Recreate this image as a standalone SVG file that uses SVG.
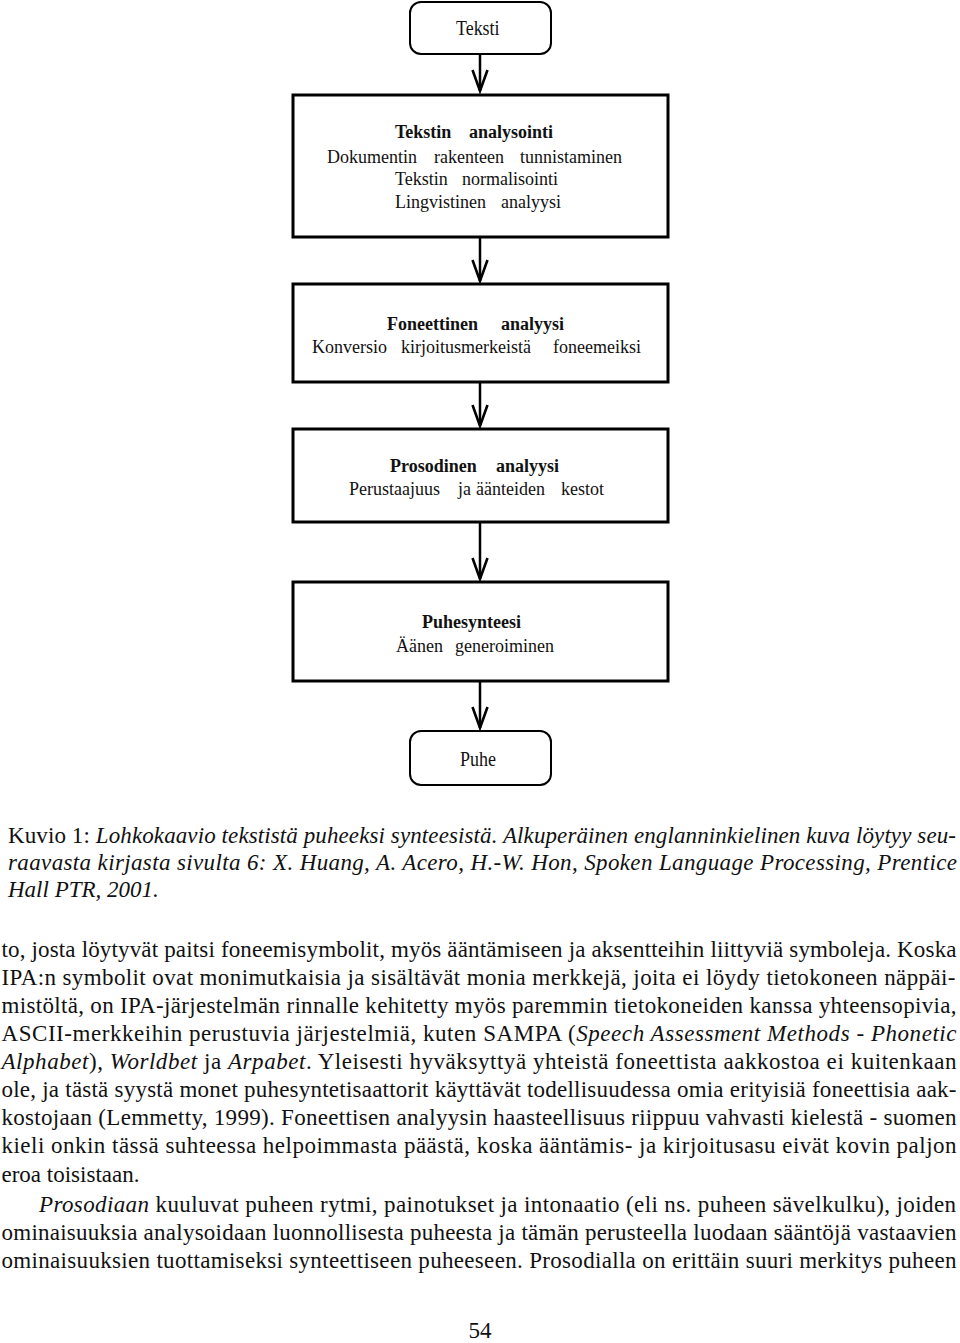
<svg xmlns="http://www.w3.org/2000/svg" width="960" height="1343" viewBox="0 0 960 1343">
<style>
.box{fill:#fff;stroke:#000;stroke-width:3}
.term{fill:#fff;stroke:#000;stroke-width:2}
.conn{stroke:#000;stroke-width:2.5;fill:none}
.lbl{font-family:"Liberation Serif","Times New Roman",serif;font-size:18px;fill:#111}
.b{font-weight:bold}
.tl{font-family:"Liberation Serif","Times New Roman",serif;font-size:20px;fill:#111}
.body{font-family:"Liberation Serif","Times New Roman",serif;font-size:23px;fill:#111}
.i{font-style:italic}
</style>
<defs>
<marker id="arr" markerUnits="userSpaceOnUse" viewBox="-26 -10 28 20" markerWidth="28" markerHeight="20" refX="0" refY="0" orient="auto" overflow="visible">
<path d="M-21,-7.5 L0,0 L-21,7.5" fill="none" stroke="#000" stroke-width="2.6" stroke-linejoin="miter"/>
</marker>
</defs>
<rect width="960" height="1343" fill="#fff"/>
<g id="connectors">
<line class="conn" x1="480" y1="54" x2="480" y2="91" marker-end="url(#arr)"/>
<line class="conn" x1="480" y1="237" x2="480" y2="281" marker-end="url(#arr)"/>
<line class="conn" x1="480" y1="382" x2="480" y2="426" marker-end="url(#arr)"/>
<line class="conn" x1="480" y1="522" x2="480" y2="579" marker-end="url(#arr)"/>
<line class="conn" x1="480" y1="681" x2="480" y2="728" marker-end="url(#arr)"/>
</g>
<g id="node-teksti">
<rect class="term" x="410" y="2" width="141" height="52" rx="11"/>
<text class="tl" x="456" y="35" textLength="43.5" lengthAdjust="spacingAndGlyphs">Teksti</text>
</g>
<g id="node-tekstin-analysointi">
<rect class="box" x="293" y="95" width="375" height="142"/>
<text class="lbl b" y="138"><tspan x="395">Tekstin</tspan><tspan x="469">analysointi</tspan></text>
<text class="lbl" y="163"><tspan x="327">Dokumentin</tspan><tspan x="434">rakenteen</tspan><tspan x="520">tunnistaminen</tspan></text>
<text class="lbl" y="185"><tspan x="395">Tekstin</tspan><tspan x="462">normalisointi</tspan></text>
<text class="lbl" y="208"><tspan x="395">Lingvistinen</tspan><tspan x="501">analyysi</tspan></text>
</g>
<g id="node-foneettinen">
<rect class="box" x="293" y="284" width="375" height="98"/>
<text class="lbl b" y="330"><tspan x="387">Foneettinen</tspan><tspan x="501">analyysi</tspan></text>
<text class="lbl" y="353"><tspan x="312">Konversio</tspan><tspan x="401">kirjoitusmerkeistä</tspan><tspan x="553">foneemeiksi</tspan></text>
</g>
<g id="node-prosodinen">
<rect class="box" x="293" y="429" width="375" height="93"/>
<text class="lbl b" y="472"><tspan x="390">Prosodinen</tspan><tspan x="496">analyysi</tspan></text>
<text class="lbl" y="495"><tspan x="349">Perustaajuus</tspan><tspan x="458">ja</tspan><tspan x="476">äänteiden</tspan><tspan x="561">kestot</tspan></text>
</g>
<g id="node-puhesynteesi">
<rect class="box" x="293" y="582" width="375" height="99"/>
<text class="lbl b" x="422" y="628">Puhesynteesi</text>
<text class="lbl" y="652"><tspan x="396">Äänen</tspan><tspan x="455">generoiminen</tspan></text>
</g>
<g id="node-puhe">
<rect class="term" x="410" y="731" width="141" height="54" rx="11"/>
<text class="tl" x="460" y="766" textLength="36" lengthAdjust="spacingAndGlyphs">Puhe</text>
</g>
<g id="caption">
<text class="body" x="8" y="843" textLength="948" lengthAdjust="spacing">Kuvio 1: <tspan class="i">Lohkokaavio tekstistä puheeksi synteesistä. Alkuperäinen englanninkielinen kuva löytyy seu-</tspan></text>
<text class="body i" x="8" y="870" textLength="949" lengthAdjust="spacing">raavasta kirjasta sivulta 6: X. Huang, A. Acero, H.-W. Hon, Spoken Language Processing, Prentice</text>
<text class="body i" x="8" y="897">Hall PTR, 2001.</text>
</g>
<g id="body-text">
<text class="body" x="1.5" y="957" textLength="955" lengthAdjust="spacing">to, josta löytyvät paitsi foneemisymbolit, myös ääntämiseen ja aksentteihin liittyviä symboleja. Koska</text>
<text class="body" x="1.5" y="985" textLength="954" lengthAdjust="spacing">IPA:n symbolit ovat monimutkaisia ja sisältävät monia merkkejä, joita ei löydy tietokoneen näppäi-</text>
<text class="body" x="1.5" y="1013" textLength="955" lengthAdjust="spacing">mistöltä, on IPA-järjestelmän rinnalle kehitetty myös paremmin tietokoneiden kanssa yhteensopivia,</text>
<text class="body" x="1.5" y="1041" textLength="955" lengthAdjust="spacing">ASCII-merkkeihin perustuvia järjestelmiä, kuten SAMPA (<tspan class="i">Speech Assessment Methods - Phonetic</tspan></text>
<text class="body" x="1.5" y="1069" textLength="955" lengthAdjust="spacing"><tspan class="i">Alphabet</tspan>), <tspan class="i">Worldbet</tspan> ja <tspan class="i">Arpabet</tspan>. Yleisesti hyväksyttyä yhteistä foneettista aakkostoa ei kuitenkaan</text>
<text class="body" x="1.5" y="1097" textLength="955" lengthAdjust="spacing">ole, ja tästä syystä monet puhesyntetisaattorit käyttävät todellisuudessa omia erityisiä foneettisia aak-</text>
<text class="body" x="1.5" y="1125" textLength="955" lengthAdjust="spacing">kostojaan (Lemmetty, 1999). Foneettisen analyysin haasteellisuus riippuu vahvasti kielestä - suomen</text>
<text class="body" x="1.5" y="1153" textLength="955" lengthAdjust="spacing">kieli onkin tässä suhteessa helpoimmasta päästä, koska ääntämis- ja kirjoitusasu eivät kovin paljon</text>
<text class="body" x="1.5" y="1182">eroa toisistaan.</text>
<text class="body" x="39" y="1212" textLength="917" lengthAdjust="spacing"><tspan class="i">Prosodiaan</tspan> kuuluvat puheen rytmi, painotukset ja intonaatio (eli ns. puheen sävelkulku), joiden</text>
<text class="body" x="1.5" y="1240" textLength="955" lengthAdjust="spacing">ominaisuuksia analysoidaan luonnollisesta puheesta ja tämän perusteella luodaan sääntöjä vastaavien</text>
<text class="body" x="1.5" y="1268" textLength="955" lengthAdjust="spacing">ominaisuuksien tuottamiseksi synteettiseen puheeseen. Prosodialla on erittäin suuri merkitys puheen</text>
<text class="body" x="480" y="1338" text-anchor="middle">54</text>
</g>
</svg>
